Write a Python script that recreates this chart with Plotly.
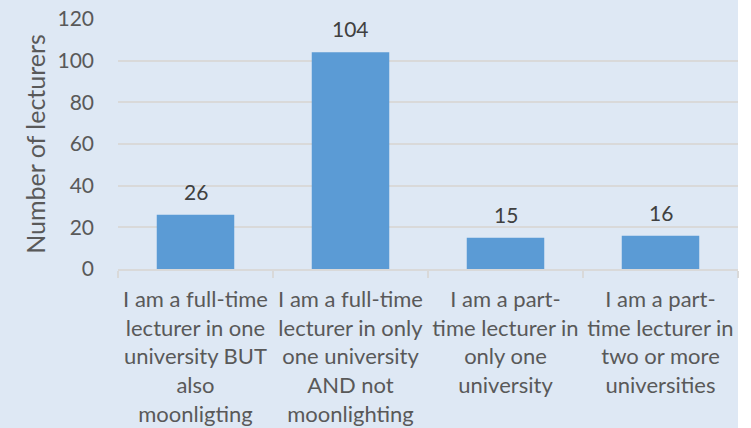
import plotly.graph_objects as go

categories = [
    "I am a full-time<br>lecturer in one<br>university BUT<br>also<br>moonligting",
    "I am a full-time<br>lecturer in only<br>one university<br>AND not<br>moonlighting",
    "I am a part-<br>time lecturer in<br>only one<br>university",
    "I am a part-<br>time lecturer in<br>two or more<br>universities",
]
values = [26, 104, 15, 16]
y_ticks = [0, 20, 40, 60, 80, 100, 120]

BG = "#DEE8F4"
GRID = "#D9D9D9"
TXT = "#595959"
FONT = "Lato"

fig = go.Figure()
fig.add_trace(go.Bar(
    x=categories, y=values,
    marker=dict(color="#5B9BD5", line=dict(width=0)),
    width=0.5,
))
for c, v in zip(categories, values):
    fig.add_annotation(x=c, y=v, text=str(v), showarrow=False,
                       yanchor="bottom", yshift=9,
                       font=dict(family=FONT, size=21, color="#404040"))

fig.update_layout(
    width=751, height=428,
    margin=dict(l=118, r=13, t=19, b=159, autoexpand=False),
    paper_bgcolor=BG, plot_bgcolor=BG,
    showlegend=False,
    font=dict(family=FONT, color=TXT),
    bargap=0.5,
    shapes=[dict(type="rect", xref="paper", yref="paper",
                 x0=1.0, x1=1.0 + 13/620, y0=-1, y1=2,
                 fillcolor="white", line=dict(width=0), layer="below")],
)
fig.update_xaxes(
    showgrid=False, showline=True, linecolor=GRID, linewidth=1.5,
    ticks="outside", tickson="boundaries", ticklen=7, tickcolor=GRID, tickwidth=1.5,
    tickfont=dict(family=FONT, size=22, color=TXT),
    tickangle=0, automargin=False,
    ticklabelstandoff=10,
)
fig.update_yaxes(
    range=[0, 120], tickvals=y_ticks,
    showgrid=True, gridcolor=GRID, gridwidth=1.5,
    zeroline=False, showline=False, automargin=False,
    tickfont=dict(family=FONT, size=21, color=TXT),
    ticklabelstandoff=23,
    title=dict(text="Number of lecturers", font=dict(family=FONT, size=25, color=TXT), standoff=4),
)

fig.write_html("out.html", config={"displayModeBar": False},
               post_script="document.body.style.margin='0';")
